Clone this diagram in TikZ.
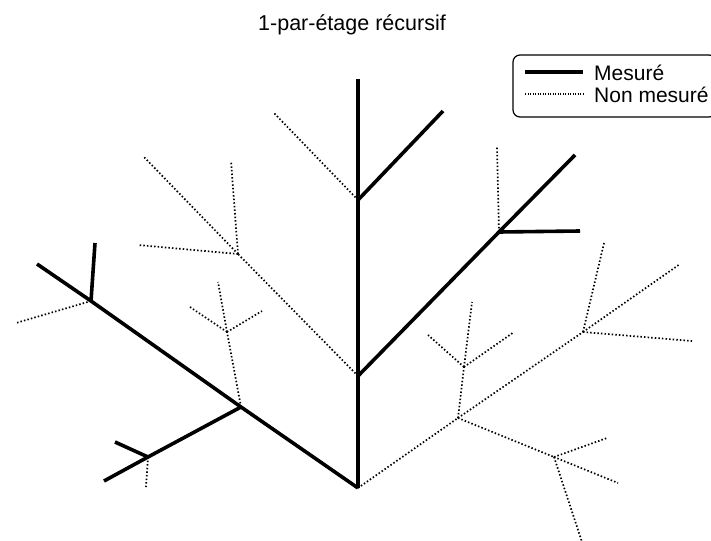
\documentclass[tikz,border=0pt]{standalone}
\usepackage{fontspec}
\setmainfont{Liberation Sans}
\begin{document}
\begin{tikzpicture}[x=1pt,y=-1pt,
  meas/.style={line width=3.6pt},
  nonmeas/.style={line width=1.7pt,dash pattern=on 1.5pt off 2.1pt},
  lab/.style={inner sep=0pt,font=\fontsize{21}{25}\selectfont}]
\useasboundingbox (0,0) rectangle (711,540);
\clip (0,0) rectangle (711,540);
\fill[white] (0,0) rectangle (711,540);
% points
\coordinate (R) at (358,488);
\coordinate (A1) at (358,376);
\coordinate (A2) at (358,200);
\coordinate (A3) at (358,79);
\coordinate (B1) at (443,111);
\coordinate (B2) at (273,112);
\coordinate (C1) at (499,232);
\coordinate (C2) at (575,155);
\coordinate (C3) at (580,231);
\coordinate (C4) at (497,147);
\coordinate (D1) at (238,254);
\coordinate (D2) at (143,156);
\coordinate (D3) at (231,161);
\coordinate (D4) at (138,245);
\coordinate (L1) at (241,407);
\coordinate (L2) at (91,301);
\coordinate (L3) at (37,264);
\coordinate (L4) at (95,243);
\coordinate (L5) at (16,323);
\coordinate (M1) at (148,457);
\coordinate (M2) at (104,481);
\coordinate (M3) at (115,442);
\coordinate (M4) at (146,487);
\coordinate (N1) at (227,332);
\coordinate (N2) at (218,282);
\coordinate (N3) at (190,307);
\coordinate (N4) at (262,311);
\coordinate (P1) at (458,418);
\coordinate (P2) at (583,332);
\coordinate (P3) at (604,243);
\coordinate (P4) at (680,264);
\coordinate (P5) at (692,341);
\coordinate (Q1) at (464,367);
\coordinate (Q2) at (472,302);
\coordinate (Q3) at (428,335);
\coordinate (Q4) at (514,332);
\coordinate (S1) at (554,457);
\coordinate (S2) at (607,438);
\coordinate (S3) at (618,483);
\coordinate (S4) at (582,542);
% non measured
\draw[nonmeas] (A2) -- (B2);
\draw[nonmeas] (C1) -- (C4);
\draw[nonmeas] (A1) -- (D1);
\draw[nonmeas] (D1) -- (D2);
\draw[nonmeas] (D1) -- (D3);
\draw[nonmeas] (D1) -- (D4);
\draw[nonmeas] (L2) -- (L5);
\draw[nonmeas] (M1) -- (M4);
\draw[nonmeas] (L1) -- (N1);
\draw[nonmeas] (N1) -- (N2);
\draw[nonmeas] (N1) -- (N3);
\draw[nonmeas] (N1) -- (N4);
\draw[nonmeas] (R) -- (P1);
\draw[nonmeas] (P1) -- (P2);
\draw[nonmeas] (P2) -- (P3);
\draw[nonmeas] (P2) -- (P4);
\draw[nonmeas] (P2) -- (P5);
\draw[nonmeas] (P1) -- (Q1);
\draw[nonmeas] (Q1) -- (Q2);
\draw[nonmeas] (Q1) -- (Q3);
\draw[nonmeas] (Q1) -- (Q4);
\draw[nonmeas] (P1) -- (S1);
\draw[nonmeas] (S1) -- (S2);
\draw[nonmeas] (S1) -- (S3);
\draw[nonmeas] (S1) -- (S4);
% measured
\draw[meas] (R) -- (A1) -- (A2) -- (A3);
\draw[meas] (A2) -- (B1);
\draw[meas] (A1) -- (C1) -- (C2);
\draw[meas] (C1) -- (C3);
\draw[meas] (R) -- (L1) -- (L2) -- (L3);
\draw[meas] (L2) -- (L4);
\draw[meas] (L1) -- (M1) -- (M2);
\draw[meas] (M1) -- (M3);
% title
\node[lab,font=\fontsize{21.5}{25}\selectfont] (title) at (352,25) {1-par-étage récursif};
% legend
\draw[line width=1.2pt,rounded corners=7pt] (513,55) rectangle (716,117);
\coordinate (ls1) at (525,72);
\coordinate (le1) at (583,72);
\coordinate (ls2) at (525,94);
\coordinate (le2) at (583,94);
\draw[meas] (ls1) -- (le1);
\draw[line width=1.2pt,dash pattern=on 1.1pt off 1.4pt] (ls2) -- (le2);
\node[lab,anchor=west] (lm) at (594,73) {Mesuré};
\node[lab,anchor=west] (ln) at (594,95) {Non mesuré};
\end{tikzpicture}
\end{document}
